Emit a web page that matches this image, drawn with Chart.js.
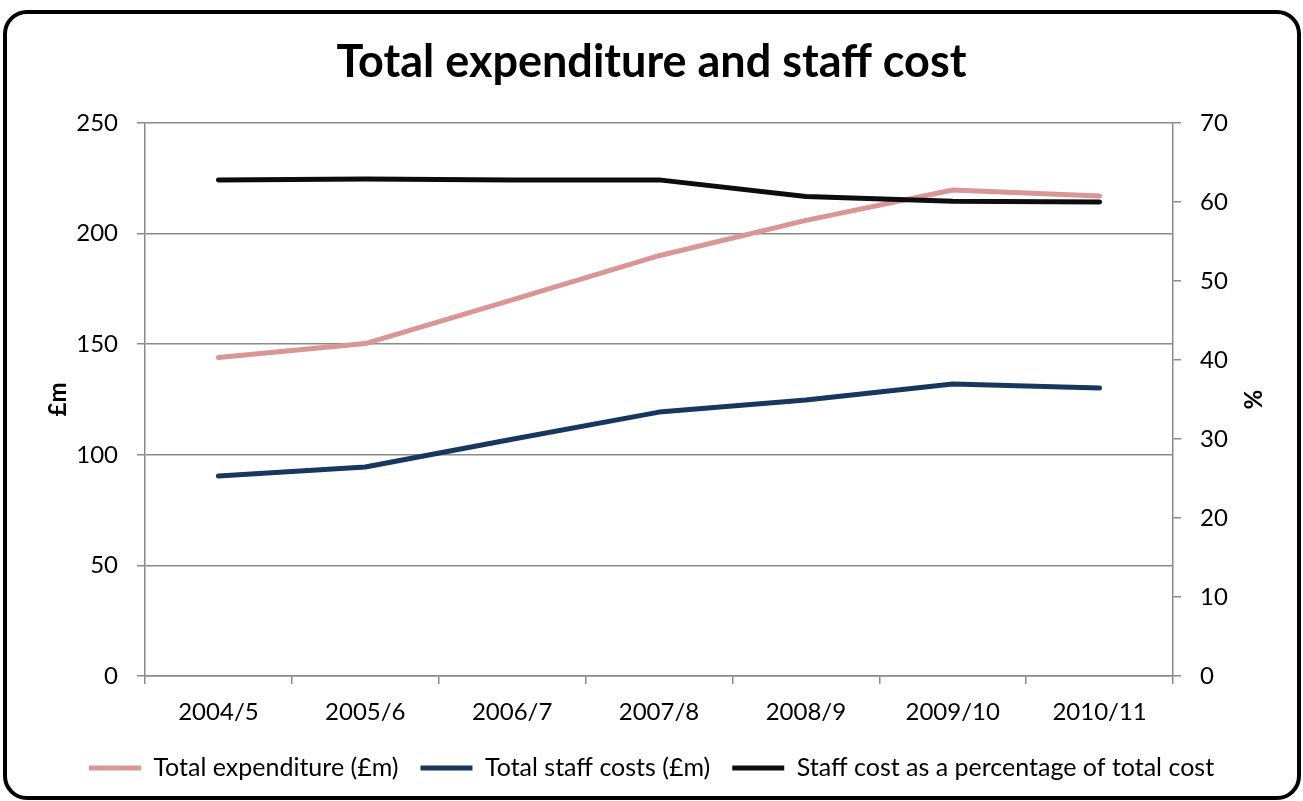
<!DOCTYPE html>
<html lang="en">
<head>
<meta charset="utf-8">
<title>Total expenditure and staff cost</title>
<style>
  html, body { margin: 0; padding: 0; background: #fff; }
  #wrap { position: relative; width: 1303px; height: 801px; }
</style>
</head>
<body>
<div id="wrap"><canvas id="costChart" width="1303" height="801"></canvas></div>

<script src="https://cdn.jsdelivr.net/npm/chart.js@4.4.1/dist/chart.umd.min.js"></script>
<script>
// financial years
const years = ['2004/5', '2005/6', '2006/7', '2007/8', '2008/9', '2009/10', '2010/11'];
// £m
const totalExpenditure = [144, 150.3, 170, 190, 206, 219.7, 217];
const totalStaffCosts = [90.4, 94.5, 107, 119.3, 124.8, 132, 130.2];
// %
const staffPercent = [62.8, 62.9, 62.8, 62.8, 60.7, 60.1, 60];

const FONT = 'Lato, "Open Sans", sans-serif';
const GRID = '#8a8a8a';

// rounded black frame round the whole chart
const framePlugin = {
    id: 'frame',
    afterDraw(chart) {
        const c = chart.ctx;
        c.save();
        c.strokeStyle = '#000';
        c.lineWidth = 4;
        c.beginPath();
        c.roundRect(5, 12, 1294, 786, 22);
        c.stroke();
        c.restore();
    }
};

function lineStyle(color) {
    return {
        borderColor: color,
        backgroundColor: color,
        borderWidth: 5,
        borderCapStyle: 'round',
        borderJoinStyle: 'round',
        tension: 0,
        pointRadius: 0
    };
}

function setupChart() {
    const ctx = document.getElementById('costChart').getContext('2d');
    const config = {
        type: 'line',
        data: {
            labels: years,
            datasets: [{
                label: 'Total expenditure (£m)',
                data: totalExpenditure,
                ...lineStyle('#D99694'),
                yAxisID: 'y',
                order: 3
            }, {
                label: 'Total staff costs (£m)',
                data: totalStaffCosts,
                ...lineStyle('#17375E'),
                yAxisID: 'y',
                order: 2
            }, {
                label: 'Staff cost as a percentage of total cost',
                data: staffPercent,
                ...lineStyle('#0D0D0D'),
                yAxisID: 'y1',
                order: 1
            }]
        },
        options: {
            responsive: false,
            animation: false,
            events: [],
            layout: { padding: { left: 0, right: 0, top: 0, bottom: 10.5 } },
            scales: {
                x: {
                    offset: true,
                    grid: { offset: true, drawOnChartArea: false, drawTicks: true, tickLength: 8, color: GRID, lineWidth: 1.5 },
                    border: { color: GRID, width: 1.5 },
                    ticks: { color: '#000', font: { family: FONT, size: 24 }, padding: 14, maxRotation: 0 },
                    afterFit: (s) => { s.height = 57.5; }
                },
                y: {
                    position: 'left',
                    min: 0, max: 250,
                    ticks: { stepSize: 50, color: '#000', font: { family: FONT, size: 24 }, padding: 19 },
                    grid: { color: GRID, lineWidth: 1.5, tickLength: 8 },
                    border: { color: GRID, width: 1.5 },
                    title: { display: true, text: '£m', color: '#000', font: { family: FONT, size: 24, weight: 'bold' }, padding: { top: 44, bottom: 0 } },
                    afterFit: (s) => { s.width = 145; }
                },
                y1: {
                    position: 'right',
                    min: 0, max: 70,
                    ticks: { stepSize: 10, color: '#000', font: { family: FONT, size: 24 }, padding: 19 },
                    grid: { drawOnChartArea: false, color: GRID, lineWidth: 1.5, tickLength: 8 },
                    border: { color: GRID, width: 1.5 },
                    title: { display: true, text: '%', color: '#000', font: { family: FONT, size: 24, weight: 'bold' }, padding: { top: 37, bottom: 0 } },
                    afterFit: (s) => { s.width = 130; }
                }
            },
            plugins: {
                title: {
                    display: true,
                    text: 'Total expenditure and staff cost',
                    color: '#000',
                    font: { family: FONT, size: 45, weight: 'bold' },
                    padding: { top: 35, bottom: 34 }
                },
                legend: {
                    position: 'bottom',
                    labels: {
                        usePointStyle: true,
                        pointStyle: 'line',
                        pointStyleWidth: 52,
                        padding: 22,
                        color: '#000',
                        font: { family: FONT, size: 25 },
                        sort: (a, b) => a.datasetIndex - b.datasetIndex
                    }
                },
                tooltip: { enabled: false }
            }
        },
        plugins: [framePlugin]
    };
    window.costChart = new Chart(ctx, config);
}

setupChart();
</script>
</body>
</html>
